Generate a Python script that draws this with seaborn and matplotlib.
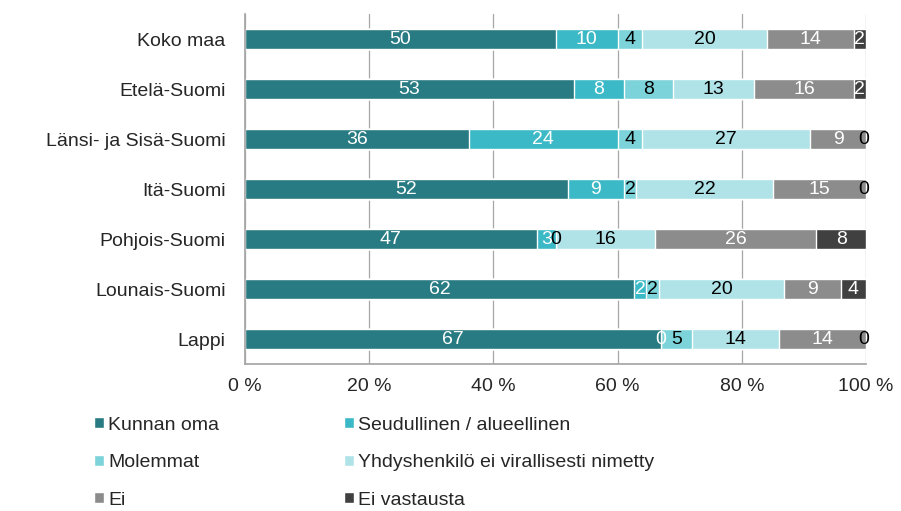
import numpy as np
import pandas as pd
import seaborn as sns
import matplotlib.pyplot as plt
from matplotlib.patches import Patch

sns.set_theme(style="white")
plt.rcParams['font.family'] = ['Liberation Sans', 'DejaVu Sans']

regions = ["Koko maa", "Etelä-Suomi", "Länsi- ja Sisä-Suomi", "Itä-Suomi",
           "Pohjois-Suomi", "Lounais-Suomi", "Lappi"]
series = ["Kunnan oma", "Seudullinen / alueellinen", "Molemmat",
          "Yhdyshenkilö ei virallisesti nimetty", "Ei", "Ei vastausta"]

kunnan_oma = [50, 53, 36, 52, 47, 62, 67]
seudullinen = [10, 8, 24, 9, 3, 2, 0]
molemmat = [4, 8, 4, 2, 0, 2, 5]
yhdyshenkilo = [20, 13, 27, 22, 16, 20, 14]
ei = [14, 16, 9, 15, 26, 9, 14]
ei_vastausta = [2, 2, 0, 0, 8, 4, 0]

colors = ["#287b82", "#3cb9c6", "#7dd3da", "#b0e3e8", "#8c8c8c", "#404040"]
label_colors = ["white", "white", "black", "black", "white", "white"]

vals = np.array([kunnan_oma, seudullinen, molemmat, yhdyshenkilo, ei, ei_vastausta], dtype=float)
# 100 % stacked: normalise each row
pct = vals / vals.sum(axis=0) * 100
cum = np.cumsum(pct, axis=0)

df = pd.DataFrame({"region": regions})
for i, s in enumerate(series):
    df[s] = cum[i]

fig = plt.figure(figsize=(9.01, 5.11), dpi=100)
ax = fig.add_axes([245 / 901, 1 - 364 / 511, (866 - 245) / 901, (364 - 14) / 511])

# draw cumulative bars from the last series backwards so earlier ones sit on top
for i in range(len(series) - 1, -1, -1):
    sns.barplot(data=df, x=series[i], y="region", orient="h", color=colors[i],
                width=0.39, saturation=1, ax=ax, zorder=3)

for i in range(len(series)):
    for j in range(len(regions)):
        start = cum[i, j] - pct[i, j]
        mid = start + pct[i, j] / 2
        c = label_colors[i]
        if i == 5 and vals[i, j] == 0:
            c = "black"
            mid = min(mid, 99.6)
        ax.text(mid, j, f"{int(vals[i, j])}", ha="center", va="center",
                color=c, fontsize=14, zorder=5)

ax.set_xlim(0, 100)
ax.set_ylim(6.5, -0.5)
ax.set_xticks(np.arange(0, 101, 20))
ax.set_xticklabels([f"{v} %" for v in range(0, 101, 20)], fontsize=14)
ax.set_yticks(range(len(regions)))
ax.set_yticklabels(regions, fontsize=14)
ax.set_yticks(np.arange(-0.5, 7, 1), minor=True)
ax.tick_params(axis="y", which="major", length=0, pad=14)
ax.tick_params(axis="y", which="minor", length=5, color="#a6a6a6", direction="out")
ax.tick_params(axis="x", length=4, color="#a6a6a6", direction="out", pad=6)
ax.set_xlabel("")
ax.set_ylabel("")
ax.grid(axis="x", color="#a6a6a6", linewidth=0.9, zorder=0)
for side in ["top", "right"]:
    ax.spines[side].set_visible(False)
for side in ["left", "bottom"]:
    ax.spines[side].set_color("#a6a6a6")
    ax.spines[side].set_zorder(6)

handles = [Patch(facecolor=colors[i], label=series[i]) for i in range(len(series))]
order = [0, 2, 4, 1, 3, 5]
fig.legend([handles[k] for k in order], [series[k] for k in order],
           loc="upper left", bbox_to_anchor=(86 / 901, 1 - 409 / 511), ncol=2,
           frameon=False, fontsize=14, handlelength=0.5, handleheight=0.5,
           handletextpad=0.25, columnspacing=6.4, labelspacing=1.05,
           borderaxespad=0)

fig.savefig("out.png", dpi=100)
